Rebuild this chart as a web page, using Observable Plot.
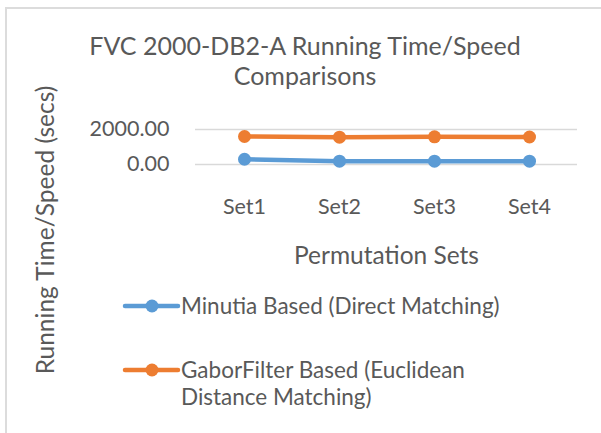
<!DOCTYPE html>
<html>
<head>
<meta charset="utf-8">
<script src="https://cdn.jsdelivr.net/npm/d3@7"></script>
<script src="https://cdn.jsdelivr.net/npm/@observablehq/plot@0.6"></script>
<style>
  html, body { margin: 0; padding: 0; background: #fff; }
  #wrap { position: relative; width: 601px; height: 433px; overflow: hidden; font-family: Lato, sans-serif; color: #595959; }
  #border { position: absolute; left: 5px; top: 7px; width: 700px; height: 500px; border-left: 2px solid #dcdcdc; border-top: 2px solid #dcdcdc; }
  #title { position: absolute; left: 5px; width: 600px; top: 30px; text-align: center; font-size: 25px; line-height: 30px; }
  #ylabel { position: absolute; left: 44px; top: 230px; transform: translate(-50%, -50%) rotate(-90deg); white-space: nowrap; font-size: 24.5px; }
  #plot { position: absolute; left: 0; top: 100px; }
  .leg { position: absolute; left: 122px; font-size: 22.5px; line-height: 27px; display: flex; align-items: flex-start; }
  .leg svg { flex: none; margin-top: 0; }
</style>
</head>
<body>
<div id="wrap">
  <div id="border"></div>
  <div id="title">FVC 2000-DB2-A Running Time/Speed<br>Comparisons</div>
  <div id="ylabel">Running Time/Speed (secs)</div>
  <div id="plot"></div>
  <div id="legend"></div>
</div>
<script>
const categories = ["Set1", "Set2", "Set3", "Set4"];
const minutiaValues = [300, 190, 190, 190];
const gaborValues = [1600, 1560, 1580, 1570];
const yTicks = [0, 2000];
const seriesNames = ["Minutia Based (Direct Matching)", "GaborFilter Based (Euclidean Distance Matching)"];
const seriesColors = ["#5b9bd5", "#ed7d31"];

const rows = [];
categories.forEach((c, i) => {
  rows.push({set: c, value: minutiaValues[i], series: seriesNames[0]});
  rows.push({set: c, value: gaborValues[i], series: seriesNames[1]});
});

const chart = Plot.plot({
  width: 601,
  height: 170,
  marginTop: 29,
  marginBottom: 106,
  marginLeft: 195,
  marginRight: 24,
  style: {fontFamily: "Lato, sans-serif", color: "#595959", background: "transparent", overflow: "visible"},
  x: {type: "point", domain: categories, padding: 0.5, label: null},
  y: {domain: [0, 2000], label: null},
  color: {domain: seriesNames, range: seriesColors},
  marks: [
    Plot.gridY(yTicks, {stroke: "#d9d9d9", strokeOpacity: 1, strokeWidth: 1.5}),
    Plot.axisY(yTicks, {tickSize: 0, tickPadding: 26, tickFormat: d3.format(".2f"), fontSize: 21.5, fill: "#595959", label: null}),
    Plot.axisX({tickSize: 0, tickPadding: 34, fontSize: 21.5, fill: "#595959", label: null}),
    Plot.line(rows, {x: "set", y: "value", z: "series", stroke: "series", strokeWidth: 4.5}),
    Plot.dot(rows, {x: "set", y: "value", fill: "series", r: 6.5, stroke: null}),
    Plot.text(["Permutation Sets"], {frameAnchor: "bottom", dy: 99, fontSize: 24.5, fill: "#595959"})
  ]
});
document.getElementById("plot").appendChild(chart);

// legend
const legend = document.getElementById("legend");
const legTops = [292, 356];
const legTexts = [["Minutia Based (Direct Matching)"], ["GaborFilter Based (Euclidean", "Distance Matching)"]];
seriesNames.forEach((name, i) => {
  const d = document.createElement("div");
  d.className = "leg";
  d.style.top = legTops[i] + "px";
  const col = seriesColors[i];
  d.innerHTML = `<svg width="59" height="27"><line x1="3" x2="56" y1="14" y2="14" stroke="${col}" stroke-width="4.5" stroke-linecap="round"/><circle cx="30" cy="14" r="6.5" fill="${col}"/></svg><span>${legTexts[i].join("<br>")}</span>`;
  legend.appendChild(d);
});
</script>
</body>
</html>
